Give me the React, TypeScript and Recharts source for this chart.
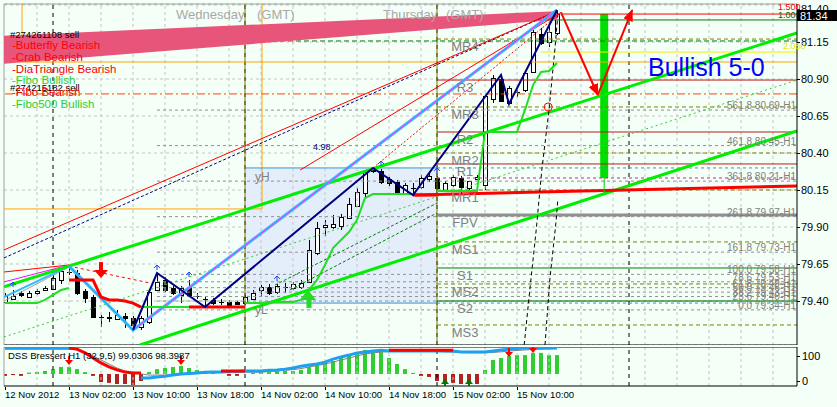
import React from "react";
import {
  ComposedChart, Bar, Line, Scatter, XAxis, YAxis, CartesianGrid,
  ReferenceLine, ReferenceArea, ReferenceDot, Cell,
} from "recharts";

const FONT = "'Liberation Sans', Arial, sans-serif";
const BG = "#F4FFF8";

// USDJPY H1, hour index 0 = 12 Nov 18:00
const opens = [79.393, 79.414, 79.454, 79.427, 79.454, 79.474, 79.481, 79.542, 79.596, 79.589, 79.468, 79.427, 79.295, 79.292, 79.278, 79.299, 79.285, 79.224, 79.258, 79.474, 79.542, 79.488, 79.441, 79.495, 79.434, 79.414, 79.407, 79.393, 79.393, 79.393, 79.386, 79.414, 79.474, 79.495, 79.461, 79.495, 79.488, 79.495, 79.528, 79.724, 79.900, 79.900, 79.907, 79.961, 80.042, 80.130, 80.278, 80.278, 80.224, 80.204, 80.130, 80.164, 80.170, 80.224, 80.231, 80.150, 80.184, 80.231, 80.164, 80.224, 80.184, 80.765, 80.900, 80.738, 80.812, 80.826, 80.947, 81.204, 81.150, 81.211];
const highs = [79.454, 79.474, 79.468, 79.468, 79.481, 79.501, 79.576, 79.623, 79.636, 79.610, 79.481, 79.441, 79.305, 79.326, 79.339, 79.319, 79.299, 79.299, 79.474, 79.589, 79.562, 79.501, 79.501, 79.542, 79.454, 79.427, 79.420, 79.414, 79.407, 79.400, 79.441, 79.474, 79.508, 79.515, 79.515, 79.522, 79.528, 79.542, 79.812, 79.934, 79.947, 79.981, 79.988, 80.096, 80.164, 80.285, 80.299, 80.292, 80.238, 80.218, 80.197, 80.197, 80.251, 80.265, 80.245, 80.211, 80.251, 80.245, 80.211, 80.251, 80.792, 80.927, 80.927, 80.853, 80.826, 80.947, 81.231, 81.245, 81.278, 81.366];
const lows = [79.380, 79.407, 79.427, 79.420, 79.441, 79.468, 79.474, 79.515, 79.576, 79.441, 79.386, 79.285, 79.224, 79.258, 79.272, 79.218, 79.204, 79.204, 79.245, 79.468, 79.461, 79.441, 79.386, 79.427, 79.414, 79.359, 79.373, 79.373, 79.366, 79.373, 79.373, 79.407, 79.427, 79.441, 79.448, 79.454, 79.474, 79.481, 79.522, 79.710, 79.838, 79.887, 79.880, 79.954, 80.035, 80.103, 80.265, 80.190, 80.177, 80.130, 80.123, 80.116, 80.157, 80.204, 80.150, 80.136, 80.170, 80.130, 80.150, 80.218, 80.150, 80.738, 80.745, 80.731, 80.778, 80.812, 80.941, 81.130, 81.116, 81.197];
const closes = [79.434, 79.434, 79.441, 79.454, 79.468, 79.488, 79.555, 79.603, 79.598, 79.454, 79.420, 79.292, 79.290, 79.285, 79.305, 79.285, 79.238, 79.285, 79.461, 79.528, 79.474, 79.454, 79.488, 79.441, 79.436, 79.412, 79.386, 79.391, 79.373, 79.380, 79.427, 79.454, 79.495, 79.454, 79.501, 79.493, 79.515, 79.522, 79.745, 79.893, 79.914, 79.920, 79.968, 80.055, 80.136, 80.272, 80.285, 80.204, 80.197, 80.136, 80.184, 80.161, 80.231, 80.245, 80.164, 80.197, 80.238, 80.170, 80.211, 80.238, 80.785, 80.907, 80.751, 80.839, 80.815, 80.941, 81.218, 81.143, 81.218, 81.340];

// trailing stop (green below / red above)
const trailUp = [79.386, 79.386, 79.386, 79.386, 79.386, 79.407, 79.441, 79.474, 79.488, null, null, null, null, null, null, null, null, 79.359, 79.359, 79.359, 79.359, 79.359, 79.359, 79.359, null, null, null, null, null, null, 79.386, 79.386, 79.386, 79.393, 79.393, 79.393, 79.393, 79.407, 79.474, 79.542, 79.643, 79.758, 79.812, 79.866, 79.947, 80.096, 80.123, 80.123, 80.123, 80.123, 80.123, 80.123, null, null, 80.143, 80.143, 80.143, 80.143, 80.143, 80.143, 80.542, 80.542, 80.542, 80.542, 80.542, 80.691, 80.859, 80.947, 80.954, 81.008];
const trailDn = [null, null, null, null, null, null, null, null, 79.542, 79.542, 79.542, 79.542, 79.427, 79.407, 79.407, 79.400, 79.386, 79.359, null, null, null, null, null, 79.359, 79.359, 79.359, 79.359, 79.359, 79.359, 79.359, 79.359, null, null, null, null, null, null, null, null, null, null, null, null, null, null, null, null, null, null, null, null, 80.116, 80.116, 80.116, 80.116, null, null, null, null, null, null, null, null, null, null, null, null, null, null, null];

// zigzag and pattern legs: candle index + which extreme
const zigzagIdx = [16, 19, 25, 46, 51, 62, 63, 69];
const zigzagSide = ["l", "h", "l", "h", "l", "h", "l", "h"];
const patternIdx = [8, 16, 69];
const patternSide = ["h", "l", "h"];
// fractal marks above highs
const fractalIdx = [1, 19, 23, 34, 47, 54];

// pivot levels
const pivotNames = ["MR4", "R3", "MR3", "R2", "MR2", "R1", "MR1", "FPV", "MS1", "S1", "MS2", "S2", "MS3"];
const pivotPrices = [81.170, 80.893, 80.711, 80.542, 80.400, 80.326, 80.150, 79.981, 79.799, 79.623, 79.515, 79.400, 79.238];

// fibo expansion
const fibLevels = ["561.8", "461.8", "361.8", "261.8", "161.8", "100.0", "78.6", "61.8", "50.0", "38.2", "23.6", "0.0"];
const fibPrices = [80.69, 80.45, 80.21, 79.97, 79.73, 79.58, 79.53, 79.49, 79.46, 79.43, 79.40, 79.34];

// DSS Bressert subwindow
const hist = [19, 22, 19, 31, 33, 37, 44, 52, 52, 44, 33, 19, -4, -7, -11, -11, -15, 0, 33, 44, 48, 52, 56, 48, 41, 33, 30, null, 19, 19, null, 31, 33, 33, 37, 37, 37, 41, 52, 56, 67, 74, 89, 96, 100, 115, 111, 107, 85, 63, 44, 30, 19, 15, 0, -7, -7, -11, -11, -11, 41, 78, 85, 93, 96, 96, 104, 104, 96, 96];
const dssBlue = [122, 122, 122, 122, 122, 122, 122, 122, 122, null, null, null, null, null, null, null, null, 11, 11, 15, 18, 22, 26, 28, 30, 32, 33, 33, 35, 35, 37, 37, 37, 40, 41, 44, 48, 55, 59, 63, 70, 81, 89, 96, 104, 107, 111, 114, 111, 111, 111, 111, 111, 111, 111, 111, 111, 107, 107, 107, 107, 111, 115, 118, 120, 122, 122, 122, 122, 122];
const dssRed = [null, null, null, null, null, null, null, null, 122, 118, 104, 85, 67, 52, 41, 33, 30, 30, null, null, null, null, null, null, null, null, null, 37, 37, 37, 37, null, null, null, null, null, null, null, null, null, null, null, null, null, null, null, null, null, 114, 114, 114, 114, 114, 114, 114, 114, 114, null, null, null, null, null, null, null, null, null, null, null, null, null];
const dssGray = [118, 118, 118, 118, 118, 118, 118, 118, 118, 115, 107, 93, 78, 63, 48, 37, 30, 26, 22, 22, 22, 22, 24, 26, 28, 30, 30, 31, 31, 31, 33, 33, 33, 35, 37, 40, 42, 46, 52, 57, 63, 70, 78, 85, 93, 100, 104, 107, 109, 110, 111, 111, 111, 110, 110, 108, 107, 106, 105, 105, 105, 106, 108, 111, 113, 115, 117, 118, 119, 120];
const HIST_BASE = 26;

const priceTicks = [79.15, 79.40, 79.65, 79.90, 80.15, 80.40, 80.65, 80.90, 81.15, 81.40];
const gridHours = [4, 8, 12, 16, 20, 24, 28, 32, 36, 40, 44, 48, 52, 56, 60, 64, 68, 72, 76, 80, 84, 88, 92, 96];
const labelHours = [0, 8, 16, 24, 32, 40, 48, 56, 64];
const timeLabels = ["12 Nov 2012", "13 Nov 02:00", "13 Nov 10:00", "13 Nov 18:00", "14 Nov 02:00", "14 Nov 10:00", "14 Nov 18:00", "15 Nov 02:00", "15 Nov 10:00"];
const daySeps = [6, 30, 54, 78];

const X_MIN = -0.125, X_MAX = 99;
const Y_MIN = 79.1027, Y_MAX = 81.4068;

const candles = opens.map((o, k) => ({ k, o, h: highs[k], l: lows[k], c: closes[k] }));
const ind = hist.map((v, k) => ({ k, hist: v, blue: dssBlue[k], red: dssRed[k], gray: dssGray[k] }));
const ext = (i: number, s: string) => ({ k: i, p: s === "h" ? highs[i] : lows[i] });
const zigzag = zigzagIdx.map((i, j) => ext(i, zigzagSide[j]));
const pattern = patternIdx.map((i, j) => ext(i, patternSide[j]));
const fractals = fractalIdx.map((i) => ({ k: i, p: highs[i] }));

// straight drawn objects: [k, price] points
const wedge = [
  [81.177, 81.343], [81.153, 81.339], [81.130, 81.336], [81.106, 81.332],
  [81.082, 81.329], [81.059, 81.326], [81.035, 81.322], [81.018, 81.316],
];
const segments: { pts: number[][]; color: string; w: number; dash?: string }[] = [
  ...wedge.map(([a, b]) => ({ pts: [[X_MIN, a], [69, b]], color: "#E8557A", w: 4.5 })),
  { pts: [[X_MIN, 79.157], [99, 80.893]], color: "#33CC33", w: 1, dash: "2 3" },
  { pts: [[33.75, 79.508], [54, 80.062]], color: "#008000", w: 1, dash: "3 2" },
  { pts: [[35.6, 79.474], [54, 79.995]], color: "#008000", w: 1, dash: "3 2" },
  { pts: [[X_MIN, 79.691], [69, 81.359]], color: "#000080", w: 1, dash: "3 2" },
  { pts: [[X_MIN, 79.745], [69, 81.359]], color: "#FF0000", w: 1 },
  { pts: [[46, 80.299], [69.5, 81.35]], color: "#FF0000", w: 1, dash: "2 2" },
  { pts: [[36.9, 80.285], [69.5, 81.35]], color: "#FF0000", w: 1 },
  { pts: [[X_MIN, 79.596], [8, 79.643]], color: "#FF0000", w: 1 },
  { pts: [[8, 79.636], [18.1, 79.522]], color: "#FF0000", w: 1, dash: "3 3" },
  { pts: [[X_MIN, 79.400], [8, 79.630]], color: "#A0A0A0", w: 1 },
  { pts: [[X_MIN, 79.427], [8, 79.636]], color: "#33BBFF", w: 2 },
  { pts: [[X_MIN, 79.529], [8, 79.643]], color: "#FF00FF", w: 1 },
  { pts: [[X_MIN, 79.495], [99, 81.211]], color: "#00EE00", w: 3 },
  { pts: [[16.875, 79.103], [99, 80.549]], color: "#00EE00", w: 3 },
  { pts: [[51.25, 80.116], [99, 80.177]], color: "#FF0000", w: 3 },
  { pts: [[64.9, 79.103], [65.6, 79.474], [66.4, 79.880], [67.1, 80.285], [68, 80.691], [68.75, 81.109], [69.1, 81.332]], color: "#000000", w: 1, dash: "4 3" },
  { pts: [[67.5, 79.103], [68.1, 79.542], [68.9, 79.947], [69.1, 80.082]], color: "#000000", w: 1, dash: "4 3" },
  { pts: [[74.9, 80.231], [74.9, 80.13]], color: "#00CC00", w: 1 },
];
const arrowLegs = [
  [[69.5, 81.35], [74.1, 80.792]],
  [[74.1, 80.792], [78.4, 81.366]],
];
const toPts = (pts: number[][]) => pts.map(([k, p]) => ({ k, p }));

const legendText = ["-Butterfly Bearish", "-Crab Bearish", "-DiaTriangle Bearish", "-Fibo Bullish", "-Fibo Bearish", "-Fibo500 Bullish"];
const legendColor = ["#FF0000", "#FF0000", "#FF0000", "#32CD32", "#FF0000", "#32CD32"];

const Candle = (props: any) => {
  const { x, y, width, height, payload } = props;
  const { o, h, l, c } = payload;
  const cx = Math.round(x + width / 2);
  const ppu = height / (h - l);
  const yO = y + (h - o) * ppu;
  const yC = y + (h - c) * ppu;
  const top = Math.round(Math.min(yO, yC));
  const bot = Math.round(Math.max(yO, yC));
  return (
    <g>
      <line x1={cx + 0.5} x2={cx + 0.5} y1={y} y2={y + height} stroke="#000" />
      {bot - top < 1 ? (
        <line x1={cx - 2} x2={cx + 3} y1={top + 0.5} y2={top + 0.5} stroke="#000" />
      ) : (
        <rect x={cx - 1.5} y={top + 0.5} width={4} height={bot - top} fill={c >= o ? "#FFFFFF" : "#000000"} stroke="#000" />
      )}
    </g>
  );
};

const PriceTick = (props: any) => {
  const { x, y, payload } = props;
  return (
    <g>
      <line x1={x} x2={x + 3} y1={y + 0.5} y2={y + 0.5} stroke="#000" />
      <text x={x + 4} y={y + 4} fontSize={11} fontFamily={FONT} fill="#000">{Number(payload.value).toFixed(2)}</text>
    </g>
  );
};

const IndTick = (props: any) => {
  const { x, y, payload } = props;
  return (
    <g>
      <line x1={x} x2={x + 3} y1={y + 0.5} y2={y + 0.5} stroke="#000" />
      <text x={x + 5} y={y + 4} fontSize={11} fontFamily={FONT} fill="#000">{payload.value}</text>
    </g>
  );
};

const TimeTick = (props: any) => {
  const { x, y, payload } = props;
  const i = labelHours.indexOf(payload.value);
  return (
    <g>
      <line x1={x + 0.5} x2={x + 0.5} y1={y + 1} y2={y + 4} stroke="#000" />
      <text x={x} y={y + 12} fontSize={9.6} fontFamily={FONT} fill="#000">{timeLabels[i]}</text>
    </g>
  );
};

const BigDown = (p: any) => (
  <g fill="#FF0000">
    <rect x={p.cx - 2} y={p.cy - 16} width={4} height={9} />
    <polygon points={`${p.cx - 7},${p.cy - 8} ${p.cx + 7},${p.cy - 8} ${p.cx},${p.cy}`} />
  </g>
);
const BigUp = (p: any) => (
  <g fill="#22DD22">
    <rect x={p.cx - 2.5} y={p.cy + 8} width={5} height={9} />
    <polygon points={`${p.cx - 7},${p.cy + 9} ${p.cx + 7},${p.cy + 9} ${p.cx},${p.cy}`} />
  </g>
);
const SmallDown = (p: any) => (
  <g fill="#FF0000">
    <rect x={p.cx - 1} y={p.cy - 9} width={2} height={5} />
    <polygon points={`${p.cx - 4},${p.cy - 5} ${p.cx + 4},${p.cy - 5} ${p.cx},${p.cy}`} />
  </g>
);
const SmallUp = (p: any) => (
  <g fill="#007700">
    <rect x={p.cx - 1} y={p.cy + 4} width={2} height={5} />
    <polygon points={`${p.cx - 4},${p.cy + 5} ${p.cx + 4},${p.cy + 5} ${p.cx},${p.cy}`} />
  </g>
);
const Fractal = (p: any) => (
  <g stroke="#2040FF" strokeWidth={1} fill="none">
    <polyline points={`${p.cx - 3},${p.cy - 5} ${p.cx},${p.cy - 8} ${p.cx + 3},${p.cy - 5}`} />
    <line x1={p.cx} x2={p.cx} y1={p.cy - 8} y2={p.cy - 3} />
  </g>
);

const PivotLabel = (p: any) => (
  <text x={p.cx} y={p.cy + 12} textAnchor="middle" fontSize={13} fontFamily={FONT} fill="#808080">{p.payload.t}</text>
);
const FibLabel = (p: any) => (
  <text x={p.cx - 1} y={p.cy - 1} textAnchor="end" fontSize={10} fontFamily={FONT} fill="#808080">{p.payload.t}</text>
);
const FreeLabel = (p: any) => (
  <text x={p.cx} y={p.cy} fontSize={p.payload.s} fontFamily={FONT} fill={p.payload.c}>{p.payload.t}</text>
);

const pivotStyle = (n: string) => {
  if (n === "FPV") return { stroke: "#909090", w: 3, dash: undefined };
  if (n.startsWith("M")) return { stroke: "#808000", w: 1, dash: "4 3" };
  if (n.startsWith("R")) return { stroke: "#C01818", w: 1, dash: undefined };
  return { stroke: "#008000", w: 1, dash: undefined };
};

export default function App() {
  const pivotLabelData = pivotNames.map((t, i) => ({ k: 57.5, p: pivotPrices[i], t }));
  const fibLabelData = fibLevels.map((l, i) => ({ k: 99, p: fibPrices[i], t: `${l} ${fibPrices[i].toFixed(2)}-H1` }));
  const freeLabels = [
    { k: 31.25, p: 80.211, t: "yH", s: 12, c: "#808080" },
    { k: 31.25, p: 79.312, t: "yL", s: 12, c: "#808080" },
    { k: 38.5, p: 80.42, t: "4.98", s: 9, c: "#000080" },
  ];

  return (
    <div style={{ position: "absolute", left: 0, top: 0, width: 837, height: 407, background: BG, overflow: "hidden" }}>
      <div style={{ position: "absolute", left: 0, top: 0 }}>
        <ComposedChart width={837} height={345} data={candles} margin={{ top: 4, right: 0, bottom: 0, left: 4 }}>
          <defs>
            <marker id="arrRed" markerWidth="12" markerHeight="10" refX="11" refY="5" orient="auto" markerUnits="userSpaceOnUse">
              <path d="M0,0 L12,5 L0,10 z" fill="#FF0000" />
            </marker>
          </defs>
          <ReferenceArea x1={30} x2={54} y1={79.386} y2={80.299} fill="#E4EEFB" fillOpacity={1} stroke="none" />
          <CartesianGrid vertical={false} stroke="#C4C4C4" strokeDasharray="3 3" />
          <XAxis dataKey="k" type="number" domain={[X_MIN, X_MAX]} allowDataOverflow hide ticks={gridHours} />
          <YAxis orientation="right" width={40} domain={[Y_MIN, Y_MAX]} allowDataOverflow ticks={priceTicks}
            tick={<PriceTick />} tickLine={false} tickSize={0} tickMargin={0} axisLine={{ stroke: "#000" }} />
          {gridHours.map((h) => (
            <ReferenceLine key={"g" + h} x={h} stroke="#C4C4C4" strokeDasharray="3 3" />
          ))}
          {daySeps.map((h) => (
            <ReferenceLine key={"d" + h} x={h} stroke="#000" strokeDasharray="4 4" />
          ))}
          <ReferenceLine x={30} stroke="#7A7A00" />
          <ReferenceLine x={54} stroke="#7A7A00" />
          <ReferenceLine y={Y_MAX} stroke="#A0A0A0" />
          <ReferenceLine y={Y_MIN} stroke="#000" />
          <ReferenceLine x={X_MIN} stroke="#A0A0A0" />
          {/* daily box lines */}
          <ReferenceLine segment={[{ x: 2.125, y: 81.015 }, { x: 99, y: 81.015 }]} stroke="#FFA500" />
          <ReferenceLine segment={[{ x: 2.125, y: 81.015 }, { x: 2.125, y: Y_MAX }]} stroke="#FFA500" />
          <ReferenceLine segment={[{ x: 32.125, y: 80.022 }, { x: 32.125, y: Y_MAX }]} stroke="#FFA500" />
          <ReferenceLine segment={[{ x: X_MIN, y: 80.022 }, { x: 32.125, y: 80.022 }]} stroke="#FFA500" />
          <ReferenceLine segment={[{ x: 30, y: 80.299 }, { x: 54, y: 80.299 }]} stroke="#3399CC" />
          <ReferenceLine segment={[{ x: 30, y: 79.386 }, { x: 54, y: 79.386 }]} stroke="#3399CC" />
          <ReferenceLine segment={[{ x: 54, y: 80.299 }, { x: 99, y: 80.299 }]} stroke="#20A0C0" strokeDasharray="3 3" />
          <ReferenceLine segment={[{ x: 54, y: 79.386 }, { x: 99, y: 79.386 }]} stroke="#20A0C0" strokeDasharray="3 3" />
          <ReferenceLine segment={[{ x: 54, y: 80.231 }, { x: 99, y: 80.231 }]} stroke="#D020A0" strokeDasharray="3 3" />
          {/* order lines */}
          <ReferenceLine y={81.157} stroke="#008000" strokeDasharray="5 3" />
          <ReferenceLine y={80.799} stroke="#FF4500" strokeDasharray="8 3 2 3" />
          {/* target levels */}
          <ReferenceLine segment={[{ x: 69.5, y: 81.339 }, { x: 99, y: 81.339 }]} stroke="#FF0000" />
          <ReferenceLine segment={[{ x: 65, y: 81.299 }, { x: 99, y: 81.299 }]} stroke="#008000" />
          <ReferenceLine segment={[{ x: 67, y: 81.082 }, { x: 99, y: 81.082 }]} stroke="#F0F000" />
          {fibPrices.map((p, i) => (
            <ReferenceLine key={"f" + i} segment={[{ x: 19, y: p }, { x: 99, y: p }]} stroke="#909090" strokeDasharray="3 3" />
          ))}
          {pivotPrices.map((p, i) => {
            const s = pivotStyle(pivotNames[i]);
            return (
              <ReferenceLine key={"p" + i} segment={[{ x: 54, y: p }, { x: 99, y: p }]} stroke={s.stroke} strokeWidth={s.w} strokeDasharray={s.dash} />
            );
          })}
          <ReferenceArea x1={74.4} x2={75.4} y1={80.231} y2={81.339} fill="#00E000" fillOpacity={1} stroke="none" />
          {segments.map((s, i) => (
            <Line key={"s" + i} data={toPts(s.pts)} dataKey="p" stroke={s.color} strokeWidth={s.w} strokeDasharray={s.dash}
              dot={false} activeDot={false} isAnimationActive={false} />
          ))}
          <Line data={pattern} dataKey="p" stroke="#33BBFF" strokeWidth={3} dot={false} activeDot={false} isAnimationActive={false} />
          <Line data={pattern} dataKey="p" stroke="#FF33FF" strokeWidth={1} dot={false} activeDot={false} isAnimationActive={false} />
          <Line dataKey={(d: any) => trailUp[d.k]} stroke="#22DD22" strokeWidth={2} dot={false} activeDot={false} isAnimationActive={false} />
          <Line dataKey={(d: any) => trailDn[d.k]} stroke="#FF0000" strokeWidth={3} dot={false} activeDot={false} isAnimationActive={false} />
          <Bar dataKey={(d: any) => [d.l, d.h]} barSize={5} shape={<Candle />} isAnimationActive={false} />
          <Line data={zigzag} dataKey="p" stroke="#000080" strokeWidth={2} dot={false} activeDot={false} isAnimationActive={false} />
          {arrowLegs.map((leg, i) => (
            <Line key={"a" + i} data={toPts(leg)} dataKey="p" stroke="#FF0000" strokeWidth={2} markerEnd="url(#arrRed)"
              dot={false} activeDot={false} isAnimationActive={false} />
          ))}
          <ReferenceDot x={67.9} y={80.711} r={4} fill="none" stroke="#FF0000" />
          <Scatter data={fractals} dataKey="p" shape={Fractal} isAnimationActive={false} />
          <Scatter data={[{ k: 12, p: 79.555 }]} dataKey="p" shape={BigDown} isAnimationActive={false} />
          <Scatter data={[{ k: 38, p: 79.468 }]} dataKey="p" shape={BigUp} isAnimationActive={false} />
          <Scatter data={pivotLabelData} dataKey="p" shape={PivotLabel} isAnimationActive={false} />
          <Scatter data={fibLabelData} dataKey="p" shape={FibLabel} isAnimationActive={false} />
          <Scatter data={freeLabels} dataKey="p" shape={FreeLabel} isAnimationActive={false} />
        </ComposedChart>
      </div>

      <div style={{ position: "absolute", left: 0, top: 347 }}>
        <ComposedChart width={837} height={60} data={ind} margin={{ top: 0, right: 0, bottom: 0, left: 4 }}>
          <XAxis dataKey="k" type="number" domain={[X_MIN, X_MAX]} allowDataOverflow ticks={labelHours} height={21}
            tick={<TimeTick />} tickLine={false} tickSize={0} tickMargin={0} axisLine={{ stroke: "#000" }} interval={0} />
          <YAxis orientation="right" width={40} domain={[-18.5, 125.9]} allowDataOverflow ticks={[0, 100]}
            tick={<IndTick />} tickLine={false} tickSize={0} tickMargin={0} axisLine={{ stroke: "#000" }} />
          {gridHours.map((h) => (
            <ReferenceLine key={"g" + h} x={h} stroke="#C4C4C4" strokeDasharray="3 3" />
          ))}
          {daySeps.map((h) => (
            <ReferenceLine key={"d" + h} x={h} stroke="#000" strokeDasharray="4 4" />
          ))}
          <ReferenceLine y={125.9} stroke="#000" />
          <ReferenceLine x={X_MIN} stroke="#A0A0A0" />
          <Bar dataKey={(d: any) => (d.hist == null ? null : [Math.min(HIST_BASE, d.hist), Math.max(HIST_BASE, d.hist)])}
            barSize={4} isAnimationActive={false}>
            {ind.map((d, i) => (
              <Cell key={i} fill={d.hist != null && d.hist >= HIST_BASE ? "#32CD32" : "#B22222"} />
            ))}
          </Bar>
          <Line dataKey="gray" stroke="#808080" strokeWidth={1} dot={false} activeDot={false} isAnimationActive={false} />
          <Line dataKey="blue" stroke="#1EA0F0" strokeWidth={3} dot={false} activeDot={false} isAnimationActive={false} />
          <Line dataKey="red" stroke="#FF0000" strokeWidth={3} dot={false} activeDot={false} isAnimationActive={false} />
          <Scatter data={[{ k: 8, p: 59 }, { k: 22, p: 59 }, { k: 63, p: 89 }, { k: 66, p: 104 }]} dataKey="p" shape={SmallDown} isAnimationActive={false} />
          <Scatter data={[{ k: 55, p: 7 }, { k: 58, p: 7 }]} dataKey="p" shape={SmallUp} isAnimationActive={false} />
        </ComposedChart>
      </div>

      <svg width={837} height={407} style={{ position: "absolute", left: 0, top: 0, pointerEvents: "none" }}>
        <g fontFamily={FONT}>
          <text x={176} y={18.5} fontSize={13} fill="#A8A8A8">Wednesday</text>
          <text x={257} y={18.5} fontSize={13} fill="#A8A8A8">(GMT)</text>
          <text x={383} y={18.5} fontSize={13} fill="#A8A8A8">Thursday</text>
          <text x={446} y={18.5} fontSize={13} fill="#A8A8A8">(GMT)</text>
          <text x={10} y={38} fontSize={9.5} fill="#000">#274261108 sell</text>
          <text x={10} y={91} fontSize={9.5} fill="#000">#274215182 sell</text>
          {legendText.map((t, i) => (
            <text key={t} x={12} y={49 + i * 11.8} fontSize={11.5} fill={legendColor[i]}>{t}</text>
          ))}
          <text x={648} y={76} fontSize={25} fill="#0000FF">Bullish 5-0</text>
          <text x={778} y={10} fontSize={9} fill="#FF0000">1.500</text>
          <text x={778} y={17.5} fontSize={9} fill="#006400">1.000</text>
          <text x={783} y={49} fontSize={9} fill="#E8E800">2.058</text>
          <rect x={797} y={10} width={40} height={11} fill="#000" />
          <text x={800} y={19.5} fontSize={11} fill="#FFF">{closes[closes.length - 1].toFixed(2)}</text>
          <text x={8} y={359} fontSize={9.5} fill="#000">DSS Bressert H1 (32,9,5) 99.0306 98.3987</text>
        </g>
      </svg>
    </div>
  );
}
